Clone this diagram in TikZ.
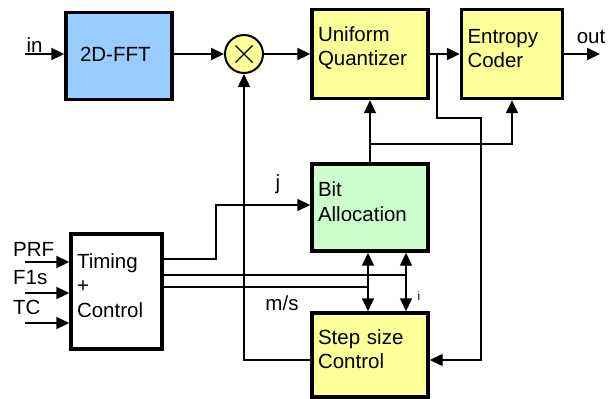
\documentclass[tikz,border=0pt]{standalone}
\usepackage{fontspec}
\setmainfont{Liberation Sans}
\usetikzlibrary{arrows.meta}

\definecolor{fftblue}{RGB}{153,204,255}
\definecolor{qyellow}{RGB}{255,255,153}
\definecolor{bagreen}{RGB}{204,255,204}

\begin{document}
\begin{tikzpicture}[
        x=1pt, y=-1pt,
        >={Triangle[length=13pt,width=12pt]},
        every node/.style={font=\fontsize{20.5}{24.5}\selectfont},
        block/.style={
            draw,
            line width=3.4pt,
            align=left,
            inner xsep=6pt,
            inner ysep=0pt,
            text height=2.7pt
        },
        sigline/.style={line width=2pt},
        ctlline/.style={line width=1.4pt},
        smalllabel/.style={font=\fontsize{12}{12}\selectfont}
    ]
        \useasboundingbox (0,0) rectangle (608,399);

        % signal path
        \node[block, fill=fftblue, minimum height=87pt, text width=78pt, inner xsep=14pt, text height=11.7pt] (fft) at (119,56) {2D-FFT};
        \node[draw, circle, fill=qyellow, line width=2pt, minimum size=38pt, inner sep=0pt] (mult) at (244,54) {};
        \draw[line width=1.3pt] ([shift={(-8.5,-8.5)}]mult.center) -- ([shift={(8.5,8.5)}]mult.center)
                                ([shift={(-8.5,8.5)}]mult.center) -- ([shift={(8.5,-8.5)}]mult.center);
        \node[block, fill=qyellow, minimum height=89pt, text width=104pt] (quant) at (370,54) {Uniform\\Quantizer};
        \node[block, fill=qyellow, minimum height=89pt, text width=89pt] (ent) at (512,54) {Entropy\\Coder};

        % control part
        \node[block, fill=bagreen, minimum height=87pt, text width=104pt] (bit) at (370,207.5) {Bit\\Allocation};
        \node[block, fill=qyellow, minimum height=84pt, text width=104pt] (step) at (370,355) {Step size\\Control};
        \node[block, fill=white, minimum height=115pt, text width=79pt] (timing) at (116.5,291.5) {Timing\\+\\Control};

        \coordinate (in) at (25,54);
        \coordinate (out) at (600,54);
        \coordinate (tap) at (437,54);
        \coordinate (tapR) at (481,118);
        \coordinate (fork) at (370,144);
        \coordinate (fb) at (244,360);
        \coordinate (jbend) at (216,205);
        \coordinate (ms1) at (406,275);
        \coordinate (ms2) at (368,287);
        \coordinate (prf) at (25,262);
        \coordinate (fones) at (25,293);
        \coordinate (tc) at (25,323);

        \draw[sigline, ->] (in) -- (in -| fft.west);
        \draw[sigline, ->] (fft.east |- mult) -- (mult);
        \draw[sigline, ->] (mult) -- (quant);
        \draw[sigline, ->] (quant) -- (ent);
        \draw[sigline, ->] (ent) -- (out);

        \draw[ctlline, ->] (tap) |- (tapR) |- (step.east |- fb);
        \draw[ctlline, ->] (bit) -- (quant);
        \draw[ctlline, ->] (fork) -| (ent.south);
        \draw[ctlline, ->] (step.west |- fb) -- (fb) -- (mult);

        \draw[ctlline, ->] ([yshift=32.5pt]timing.east) -| (jbend) -- (bit.west |- jbend);
        \draw[ctlline] ([yshift=16.5pt]timing.east) -- (ms1);
        \draw[ctlline] ([yshift=4.5pt]timing.east) -- (ms2);
        \draw[ctlline, <->] (bit.south -| ms2) -- (step.north -| ms2);
        \draw[ctlline, <->] (bit.south -| ms1) -- (step.north -| ms1);

        \draw[sigline, ->] (prf) -- (prf -| timing.west);
        \draw[sigline, ->] (fones) -- (fones -| timing.west);
        \draw[sigline, ->] (tc) -- (tc -| timing.west);

        % labels
        \node (lblin) at (34.5,45) {in};
        \node (lblout) at (591,37) {out};
        \node (lblj) at (278,184) {j};
        \node (lblms) at (282,303) {m/s};
        \node[smalllabel] (lbli) at (419,296.5) {i};
        \node[anchor=west, inner sep=0pt] (lblprf) at (13,249) {PRF};
        \node[anchor=west, inner sep=0pt] (lblfones) at (13,278) {F1s};
        \node[anchor=west, inner sep=0pt] (lbltc) at (13,307) {TC};
    \end{tikzpicture}
\end{document}
